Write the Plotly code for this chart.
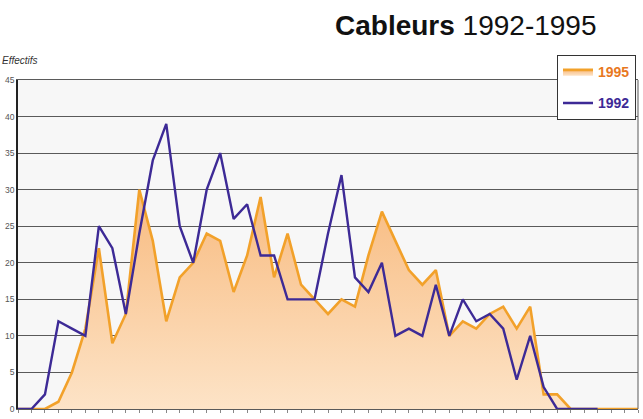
import plotly.graph_objects as go

# Data (index = category position along x)
idx_1995 = list(range(47))
val_1995 = [0, 0, 0, 1, 5, 11, 22, 9, 13, 30, 23, 12, 18, 20, 24, 23, 16, 21, 29, 18,
            24, 17, 15, 13, 15, 14, 21, 27, 23, 19, 17, 19, 10, 12, 11, 13, 14, 11, 14, 2,
            2, 0, 0, 0, 0, 0, 0]
idx_1992 = list(range(44))
val_1992 = [0, 0, 2, 12, 11, 10, 25, 22, 13, 24, 34, 39, 25, 20, 30, 35, 26, 28, 21, 21,
            15, 15, 15, 24, 32, 18, 16, 20, 10, 11, 10, 17, 10, 15, 12, 13, 11, 4, 10, 3,
            0, 0, 0, 0]
y_ticks = [0, 5, 10, 15, 20, 25, 30, 35, 40, 45]

W, H = 643, 419
L, R, T, B = 18, 5, 80, 7
pw, ph = W - L - R, H - T - B

def px_x(x):
    return (x - L) / pw

def px_y(y):
    return (H - B - y) / ph

fig = go.Figure()
fig.add_trace(go.Scatter(
    x=idx_1995, y=val_1995, name="<b><span style='color:#E8781E'>1995</span></b>",
    mode="lines",
    line=dict(color="#F2A12A", width=2.6),
    fill="tozeroy",
    fillgradient=dict(type="vertical",
                      colorscale=[[0, "#FDE4C8"], [1, "#F8BB80"]],
                      start=0, stop=30),
    legendgroup="a",
))
fig.add_trace(go.Scatter(
    x=idx_1992, y=val_1992, name="<b><span style='color:#3D2A96'>1992</span></b>",
    mode="lines",
    line=dict(color="#3D2A96", width=2.4),
    legendgroup="b",
))

fig.update_layout(
    width=W, height=H,
    margin=dict(l=L, r=R, t=T, b=B),
    paper_bgcolor="white",
    plot_bgcolor="#f7f7f7",
    font=dict(family="Liberation Sans, Arial, sans-serif"),
    showlegend=True,
    legend=dict(
        x=px_x(557), y=px_y(55), xanchor="left", yanchor="top",
        bgcolor="white", bordercolor="#333", borderwidth=1,
        font=dict(size=14, family="Liberation Sans, Arial, sans-serif"),
        tracegroupgap=10, itemwidth=30,
    ),
    xaxis=dict(
        range=[0, 46], showgrid=False, zeroline=False,
        showticklabels=False, ticks="outside", ticklen=3, tickcolor="#888",
        tickmode="linear", tick0=0, dtick=1,
        showline=True, linecolor="#5a5a5a", linewidth=1, mirror=True,
    ),
    yaxis=dict(
        range=[0, 45], tickvals=y_ticks, ticktext=[str(v) for v in y_ticks],
        showgrid=True, gridcolor="#5a5a5a", gridwidth=1,
        zeroline=False, showline=True, linecolor="#222", linewidth=1.5,
        tickfont=dict(size=8.5, color="#555"), ticks="",
    ),
    shapes=[
        dict(type="line", xref="paper", yref="paper", x0=1, x1=1, y0=0, y1=1,
             line=dict(color="#5a5a5a", width=1)),
    ],
    annotations=[
        dict(text="<b>Cableurs</b> 1992-1995", xref="paper", yref="paper",
             x=px_x(599), y=px_y(25), xanchor="right", yanchor="middle",
             showarrow=False, font=dict(size=28, color="#111",
                                        family="Liberation Sans, Arial, sans-serif")),
        dict(text="<i>Effectifs</i>", xref="paper", yref="paper",
             x=px_x(0), y=px_y(60), xanchor="left", yanchor="middle",
             showarrow=False, font=dict(size=10, color="#333")),
    ],
)

fig.write_html("out.html")
